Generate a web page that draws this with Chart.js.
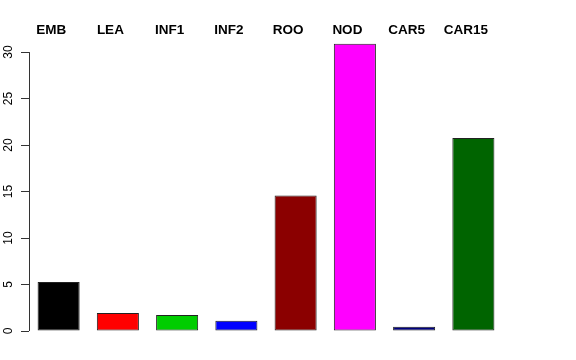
<!DOCTYPE html>
<html>
<head>
<meta charset="utf-8">
<script src="https://cdn.jsdelivr.net/npm/chart.js@4/dist/chart.umd.min.js"></script>
<style>
  html, body { margin: 0; padding: 0; background: #fff; }
</style>
</head>
<body>
<canvas id="grafico" width="576" height="360"></canvas>
<script>
// Datos
var categorias = ['EMB', 'LEA', 'INF1', 'INF2', 'ROO', 'NOD', 'CAR5', 'CAR15'];
var valores = [5.27, 1.94, 1.72, 1.1, 14.58, 30.9, 0.46, 20.75];
var colores = ['#000000', '#FF0000', '#00CD00', '#0000FF', '#8B0000', '#FF00FF', '#000080', '#006400'];
var ticksY = [0, 5, 10, 15, 20, 25, 30];

Chart.defaults.font.family = '"Liberation Sans", Arial, sans-serif';
Chart.defaults.color = '#000';

// Linea del eje y solo entre 0 y 30 (como en R)
var ejeY = {
    id: 'ejeY',
    afterDraw: function (chart) {
        var y = chart.scales.y;
        var ctx = chart.ctx;
        var x = Math.round(chart.chartArea.left) + 0.5;
        ctx.save();
        ctx.strokeStyle = '#333';
        ctx.lineWidth = 1;
        ctx.beginPath();
        ctx.moveTo(x, y.getPixelForValue(ticksY[0]));
        ctx.lineTo(x, y.getPixelForValue(ticksY[ticksY.length - 1]));
        ctx.stroke();
        ctx.restore();
    }
};

new Chart(document.getElementById('grafico').getContext('2d'), {
    type: 'bar',
    data: {
        labels: categorias,
        datasets: [{
            data: valores,
            backgroundColor: colores,
            borderColor: '#222',
            borderWidth: 1,
            borderSkipped: false,
            barPercentage: 0.71,
            categoryPercentage: 1
        }]
    },
    options: {
        responsive: false,
        animation: false,
        layout: { padding: { left: 0, right: 73, top: 0, bottom: 29 } },
        plugins: { legend: { display: false }, tooltip: { enabled: false } },
        scales: {
            x: {
                position: 'top',
                grid: { display: false },
                border: { display: false },
                ticks: {
                    font: { size: 13.5, weight: 'bold' },
                    padding: -6,
                    labelOffset: -7.5,
                    maxRotation: 0
                },
                afterFit: function (scale) { scale.height = 40; }
            },
            y: {
                min: 0,
                max: 31.3,
                grid: { drawOnChartArea: false, drawTicks: true, tickLength: 8, color: '#333' },
                border: { display: false },
                ticks: {
                    stepSize: 5,
                    font: { size: 12 },
                    minRotation: 90,
                    maxRotation: 90,
                    crossAlign: 'center',
                    padding: 6
                },
                afterBuildTicks: function (scale) {
                    scale.ticks = ticksY.map(function (v) { return { value: v }; });
                },
                afterFit: function (scale) { scale.width = 29; }
            }
        }
    },
    plugins: [ejeY]
});
</script>
</body>
</html>
